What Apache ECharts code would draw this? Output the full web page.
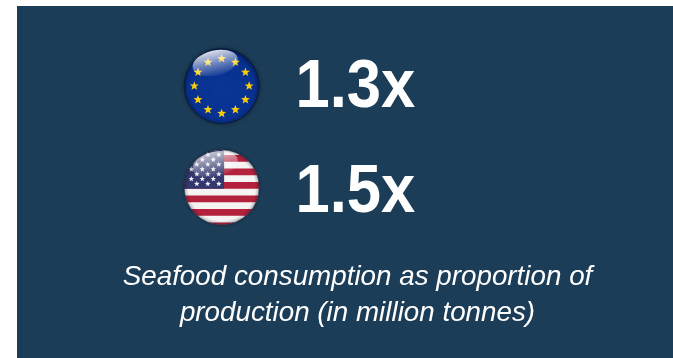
<!DOCTYPE html>
<html>
<head>
<meta charset="utf-8">
<style>
  html, body { margin: 0; padding: 0; background: #ffffff; }
  #chart { width: 673px; height: 358px; }
</style>
<script src="https://cdn.jsdelivr.net/npm/echarts@6/dist/echarts.min.js"></script>
</head>
<body>
<div id="chart"></div>
<script>
// Consumption-to-production ratios by region
var regions = ['EU', 'US'];
var ratios = [1.3, 1.5];
var captionLines = ['Seafood consumption as proportion of', 'production (in million tonnes)'];

var FONT = '"Liberation Sans", Arial, sans-serif';
var R = 37.5;
var centers = [[221.7, 86], [221.7, 187.3]];
var ratioTextY = [88, 193];

// Polygon for the part of a disc inside a horizontal band and left of xMax
function discBand(cx, cy, r, y0, y1, xMax) {
  var left = [], right = [];
  var steps = 24;
  for (var i = 0; i <= steps; i++) {
    var y = Math.max(cy - r, y0) + (Math.min(cy + r, y1) - Math.max(cy - r, y0)) * i / steps;
    var half = Math.sqrt(Math.max(0, r * r - (y - cy) * (y - cy)));
    left.push([cx - half, y]);
    right.push([Math.min(cx + half, xMax), y]);
  }
  return left.concat(right.reverse());
}

// Five-pointed star outline, point upward
function star(cx, cy, r, r0, fill) {
  var pts = [];
  for (var i = 0; i < 10; i++) {
    var a = i * Math.PI / 5;
    var d = i % 2 ? r0 : r;
    pts.push([cx + d * Math.sin(a), cy - d * Math.cos(a)]);
  }
  return { type: 'polygon', silent: true, shape: { points: pts }, style: { fill: fill } };
}

function gloss(x, y, rx, ry, rot, top, mid, bottom) {
  return {
    type: 'ellipse', x: x, y: y, rotation: rot, silent: true,
    shape: { cx: 0, cy: 0, rx: rx, ry: ry },
    style: {
      fill: new echarts.graphic.LinearGradient(0, 0, 0, 1, [
        { offset: 0, color: 'rgba(255,255,255,' + top + ')' },
        { offset: 0.5, color: 'rgba(255,255,255,' + mid + ')' },
        { offset: 1, color: 'rgba(255,255,255,' + bottom + ')' }
      ])
    }
  };
}

function rim(c, strokeAlpha) {
  return {
    type: 'circle', silent: true,
    shape: { cx: c[0], cy: c[1], r: R },
    style: {
      fill: new echarts.graphic.RadialGradient(0.5, 0.5, 0.5, [
        { offset: 0, color: 'rgba(0,0,0,0)' },
        { offset: 0.88, color: 'rgba(0,0,0,0)' },
        { offset: 1, color: 'rgba(5,15,50,0.3)' }
      ]),
      stroke: 'rgba(8,24,40,' + strokeAlpha + ')', lineWidth: 1
    }
  };
}

function euFlag(c) {
  var out = [{
    type: 'circle', silent: true,
    shape: { cx: c[0], cy: c[1], r: R },
    style: {
      fill: new echarts.graphic.RadialGradient(0.5, 0.55, 0.55, [
        { offset: 0, color: '#0a3596' },
        { offset: 0.8, color: '#08318f' },
        { offset: 1, color: '#04236f' }
      ]),
      shadowBlur: 5, shadowColor: 'rgba(5,15,30,0.7)'
    }
  }];
  for (var i = 0; i < 12; i++) {
    var a = i * Math.PI / 6;
    out.push(star(c[0] + 27.4 * Math.sin(a), c[1] - 27.4 * Math.cos(a), 4.7, 2, '#f8cc0a'));
  }
  out.push(rim(c, 0.7));
  out.push(gloss(c[0] - 6.5, c[1] - 23, 23, 12.5, 0.22, 0.85, 0.42, 0.06));
  return out;
}

function usFlag(c) {
  var cx = c[0], cy = c[1];
  var top = cy - R, stripe = 6.75;
  var out = [{
    type: 'circle', silent: true,
    shape: { cx: cx, cy: cy, r: R },
    style: { fill: '#f6f3f3', shadowBlur: 4, shadowColor: 'rgba(5,15,30,0.55)' }
  }];
  // Red stripes; the white ones are the disc itself
  for (var s = 1; s < 12; s += 2) {
    out.push({
      type: 'polygon', silent: true,
      shape: { points: discBand(cx, cy, R, top + 5.3 + (s - 1) * stripe, top + 5.3 + s * stripe, 1e4) },
      style: { fill: '#b4213c' }
    });
  }
  var cantonBottom = top + 39;
  var cantonRight = cx + 2.4;
  out.push({
    type: 'polygon', silent: true,
    shape: { points: discBand(cx, cy, R, top, cantonBottom, cantonRight) },
    style: { fill: '#34386f' }
  });
  // Staggered star field, kept inside the disc by testing each position
  for (var row = 0; row < 8; row++) {
    for (var col = 0; col < 7; col++) {
      var sx = cantonRight - 5.3 - col * 11 - (row % 2 ? 5.5 : 0);
      var sy = cantonBottom - 5 - row * 4.85;
      var dx = sx - cx, dy = sy - cy;
      if (dx * dx + dy * dy > (R - 1.5) * (R - 1.5)) continue;
      out.push(star(sx, sy, 2.9, 1.2, '#f4f4f8'));
    }
  }
  out.push(rim(c, 0.4));
  out.push(gloss(cx - 6.5, cy - 23, 23, 12.5, 0.22, 0.7, 0.35, 0.04));
  return out;
}

var flagBuilders = { EU: euFlag, US: usFlag };
var elements = [{
  type: 'rect', silent: true,
  shape: { x: 17, y: 6, width: 656, height: 352 },
  style: { fill: '#1c3d57' }
}];

regions.forEach(function (region, i) {
  elements = elements.concat(flagBuilders[region](centers[i]));
  elements.push({
    type: 'text', silent: true, x: 295.4, y: ratioTextY[i], scaleX: 0.905,
    style: {
      text: ratios[i].toFixed(1) + 'x',
      font: 'bold 68px ' + FONT,
      fill: '#ffffff', textAlign: 'left', textVerticalAlign: 'middle'
    }
  });
});

captionLines.forEach(function (line, i) {
  elements.push({
    type: 'text', silent: true, x: 357.5, y: 277 + i * 36, scaleX: 0.975,
    style: {
      text: line,
      font: 'italic 28.5px ' + FONT,
      fill: '#ffffff', textAlign: 'center', textVerticalAlign: 'middle'
    }
  });
});

var chart = echarts.init(document.getElementById('chart'), null, { renderer: 'canvas' });
chart.setOption({ animation: false, graphic: { elements: elements } });
</script>
</body>
</html>
